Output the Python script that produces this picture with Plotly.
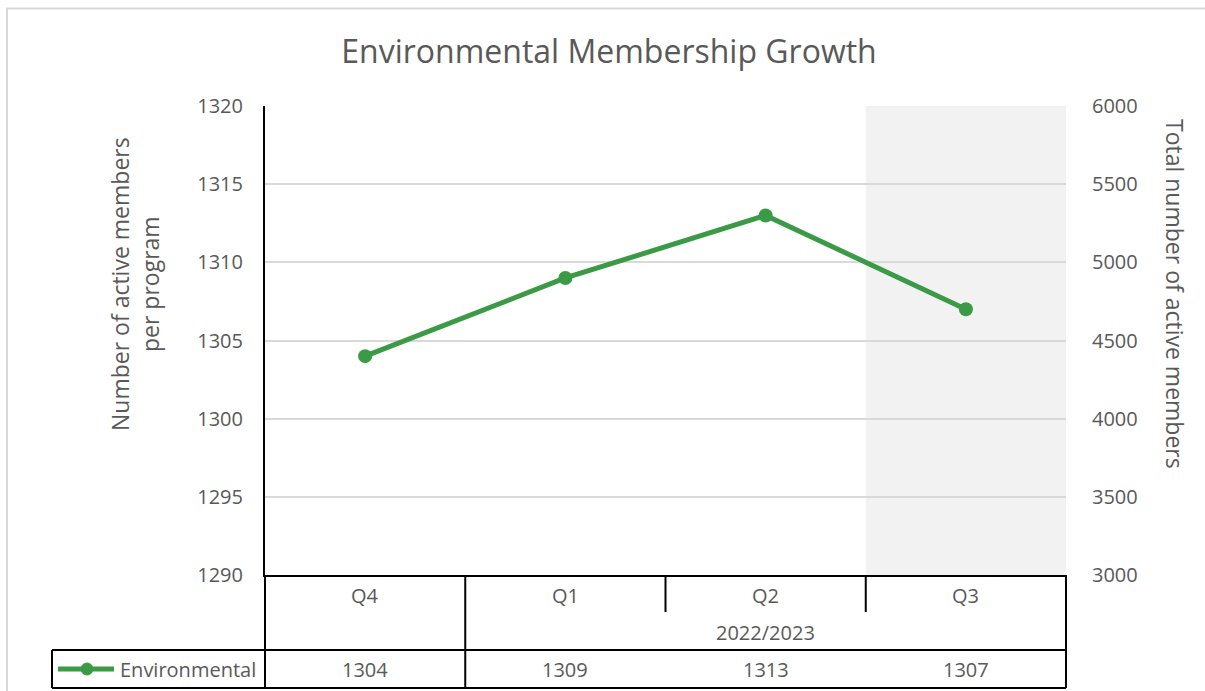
import plotly.graph_objects as go

categories = ["Q4", "Q1", "Q2", "Q3"]
year_label = "2022/2023"
series_name = "Environmental"
values = [1304, 1309, 1313, 1307]
left_ticks = [1290, 1295, 1300, 1305, 1310, 1315, 1320]
right_ticks = [3000, 3500, 4000, 4500, 5000, 5500, 6000]

GREEN = "#3b9a45"
TXT = "#595959"
FONT = "Open Sans"
W, H = 1205, 691
L, R, T, B = 265, 139, 106, 116
PW, PH = W - L - R, H - T - B

def px_x(p):
    return (p - L) / PW

def px_y(p):
    return (H - B - p) / PH

xs = list(range(len(categories)))
n = len(categories)

fig = go.Figure()
fig.add_trace(go.Scatter(
    x=xs, y=values, mode="lines+markers", name=series_name,
    line=dict(color=GREEN, width=5), marker=dict(color=GREEN, size=14),
    showlegend=False, hoverinfo="skip"))
fig.add_trace(go.Scatter(x=xs, y=[None] * n, yaxis="y2", showlegend=False, hoverinfo="skip"))

shapes = []
shapes.append(dict(type="rect", xref="x", yref="paper", x0=n - 1.5, x1=n - 0.5, y0=0, y1=1,
                   fillcolor="#f2f2f2", line=dict(width=0), layer="below"))
shapes.append(dict(type="rect", xref="paper", yref="paper", x0=px_x(7), x1=px_x(1215),
                   y0=px_y(705), y1=px_y(8.5), line=dict(color="#d9d9d9", width=2),
                   fillcolor="rgba(0,0,0,0)"))

blk = dict(color="#000000", width=2)
y_row1, y_row2, y_row3 = px_y(612), px_y(650), px_y(688)
for i in range(n + 1):
    xb = i / n
    y_end = y_row3 if i in (0, 1, n) else y_row1
    shapes.append(dict(type="line", xref="paper", yref="paper", x0=xb, x1=xb, y0=0, y1=y_end, line=blk))
shapes.append(dict(type="line", xref="paper", yref="paper", x0=px_x(52), x1=1, y0=y_row2, y1=y_row2, line=blk))
shapes.append(dict(type="line", xref="paper", yref="paper", x0=px_x(52), x1=1, y0=y_row3, y1=y_row3, line=blk))
shapes.append(dict(type="line", xref="paper", yref="paper", x0=px_x(52), x1=px_x(52), y0=y_row3, y1=y_row2, line=blk))
y_leg = px_y(669)
shapes.append(dict(type="line", xref="paper", yref="paper", x0=px_x(58), x1=px_x(114), y0=y_leg, y1=y_leg,
                   line=dict(color=GREEN, width=5)))
shapes.append(dict(type="circle", xref="paper", yref="paper", x0=px_x(81), x1=px_x(93),
                   y0=px_y(675), y1=px_y(663), fillcolor=GREEN, line=dict(color=GREEN, width=1)))

ann = []
tf = dict(family=FONT, size=20, color=TXT)
base = dict(showarrow=False, xanchor="center", yanchor="middle")
for i, c in enumerate(categories):
    ann.append(dict(x=i, y=px_y(595), xref="x", yref="paper", text=c, font=tf, **base))
    ann.append(dict(x=i, y=px_y(669), xref="x", yref="paper", text=str(values[i]), font=tf, **base))
ann.append(dict(x=(1 + n - 1) / 2, y=px_y(632), xref="x", yref="paper", text=year_label, font=tf, **base))
ann.append(dict(x=px_x(258), y=y_leg, xref="paper", yref="paper", text=series_name, showarrow=False,
                xanchor="right", yanchor="middle", font=tf))
ann.append(dict(x=px_x(135), y=px_y(284), xref="paper", yref="paper",
                text="Number of active members<br>per program", textangle=-90,
                font=dict(family=FONT, size=23, color=TXT), **base))
ann.append(dict(x=px_x(1175), y=px_y(294), xref="paper", yref="paper",
                text="Total number of active members", textangle=90,
                font=dict(family=FONT, size=23, color=TXT), **base))

fig.update_layout(
    width=W, height=H,
    margin=dict(l=L, r=R, t=T, b=B, autoexpand=False),
    paper_bgcolor="white", plot_bgcolor="white",
    title=dict(text="Environmental Membership Growth", x=609 / W, xanchor="center",
               y=1 - 52 / H, yanchor="middle", font=dict(family=FONT, size=32, color=TXT)),
    xaxis=dict(range=[-0.5, n - 0.5], showgrid=False, showticklabels=False, zeroline=False,
               showline=True, linecolor="#000000", linewidth=2, fixedrange=True),
    yaxis=dict(range=[left_ticks[0], left_ticks[-1]], tickvals=left_ticks, showgrid=True,
               gridcolor="#d9d9d9", gridwidth=2, zeroline=False, showline=True,
               linecolor="#000000", linewidth=2, tickfont=dict(family=FONT, size=20, color=TXT),
               ticks="outside", ticklen=16, tickcolor="rgba(0,0,0,0)"),
    yaxis2=dict(range=[right_ticks[0], right_ticks[-1]], tickvals=right_ticks, overlaying="y",
                side="right", showgrid=False, zeroline=False, showline=False,
                tickfont=dict(family=FONT, size=20, color=TXT),
                ticks="outside", ticklen=21, tickcolor="rgba(0,0,0,0)"),
    shapes=shapes, annotations=ann, showlegend=False,
)

fig.write_html("out.html", config={"displayModeBar": False},
               post_script="document.body.style.margin='0';document.body.style.overflow='hidden';")
